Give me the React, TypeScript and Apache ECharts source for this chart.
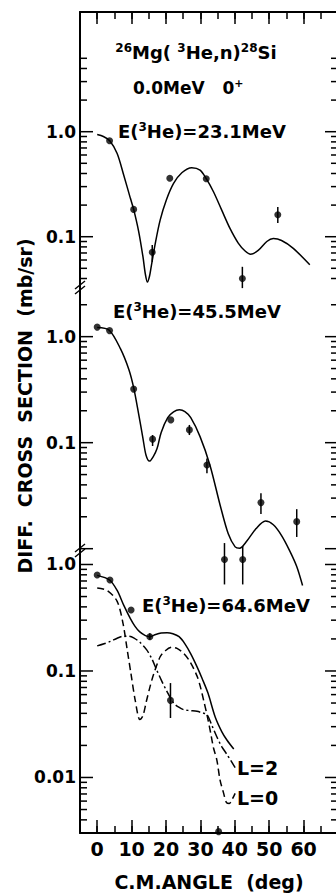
import React, { useEffect, useRef } from 'react';
import * as echarts from 'echarts';

// ---------- axis ranges ----------
const X_MIN = -5;
const X_MAX = 70;
const X_MAJOR_MIN = 0;
const P1_Y_MIN = 0.0332;
const P1_Y_MAX = 13.8;
const P2_Y_MIN = 0.00972;
const P2_Y_MAX = 2.94;
const P3_Y_MIN = 0.00301;
const P3_Y_MAX = 1.368;

// ---------- tick labels ----------
const X_TICK_LABELS = [0, 10, 20, 30, 40, 50, 60];
const P1_Y_LABELS: [number, string][] = [[1, '1.0'], [0.1, '0.1']];
const P2_Y_LABELS: [number, string][] = [[1, '1.0'], [0.1, '0.1']];
const P3_Y_LABELS: [number, string][] = [[1, '1.0'], [0.1, '0.1'], [0.01, '0.01']];

// ---------- y tick marks (value, major) ----------
const P1_Y_MAJOR = [1, 0.1];
const P1_Y_MINOR = [5, 4, 3, 2, 0.9, 0.8, 0.7, 0.6, 0.5, 0.4, 0.3, 0.2, 0.09, 0.08, 0.07, 0.06, 0.05, 0.04];
const P2_Y_MAJOR = [1, 0.1, 0.01];
const P2_Y_MINOR = [2, 0.9, 0.8, 0.7, 0.6, 0.5, 0.4, 0.3, 0.2, 0.09, 0.08, 0.07, 0.06, 0.05, 0.04, 0.03, 0.02];
const P3_Y_MAJOR = [1, 0.1, 0.01];
const P3_Y_MINOR = [0.9, 0.8, 0.7, 0.6, 0.5, 0.4, 0.3, 0.2, 0.09, 0.08, 0.07, 0.06, 0.05, 0.04, 0.03, 0.02, 0.009, 0.008, 0.007, 0.006, 0.005, 0.004];

// ---------- panel 1 : E(3He)=23.1 MeV ----------
const P1_POINTS = [[3.6, 0.82], [10.6, 0.182], [16.0, 0.071], [21.1, 0.36], [31.7, 0.357], [42.2, 0.04], [52.5, 0.162]];
const P1_ERRORS = [[16.0, 0.0578, 0.0833], [42.2, 0.0324, 0.0517], [52.5, 0.135, 0.192]];
const P1_CURVE = [
  [0, 0.94], [1.8, 0.9], [3.65, 0.82], [5.8, 0.62], [7.7, 0.387], [9.65, 0.232], [10.6, 0.182],
  [12.06, 0.112], [13.3, 0.0645], [14.0, 0.044], [14.6, 0.037], [15.2, 0.042], [15.7, 0.052],
  [16.9, 0.087], [18.3, 0.144], [20.1, 0.224], [22.2, 0.322], [24.6, 0.407], [27.5, 0.454],
  [29.9, 0.431], [31.7, 0.357], [33.8, 0.268], [36.2, 0.179], [38.6, 0.12], [41.0, 0.087],
  [43.0, 0.073], [44.6, 0.068], [46.8, 0.074], [49.3, 0.09], [51.2, 0.096], [53.6, 0.092],
  [57.0, 0.0775], [61.8, 0.054],
];

// ---------- panel 2 : E(3He)=45.5 MeV ----------
const P2_POINTS = [[0, 1.23], [3.6, 1.14], [10.6, 0.32], [16.1, 0.108], [21.4, 0.164], [26.8, 0.132], [31.9, 0.0616], [37.0, 0.0079], [42.3, 0.0079], [47.6, 0.0272], [58.0, 0.018]];
const P2_ERRORS = [[16.1, 0.093, 0.118], [26.8, 0.118, 0.147], [31.9, 0.0515, 0.0711], [37.0, 0.0046, 0.0113], [42.3, 0.0046, 0.0106], [47.6, 0.0212, 0.0334], [58.0, 0.0129, 0.0236]];
const P2_CURVE = [
  [0, 1.22], [3.5, 1.15], [6.75, 0.77], [9.2, 0.49], [10.6, 0.33], [12.0, 0.19], [13.3, 0.11],
  [14.2, 0.076], [15.2, 0.067], [16.3, 0.074], [17.4, 0.088], [18.6, 0.125], [20.5, 0.172],
  [22.2, 0.195], [23.9, 0.204], [25.5, 0.196], [27.2, 0.172], [29.9, 0.114], [32.8, 0.061],
  [35.7, 0.026], [38.1, 0.0138], [40.1, 0.0104], [41.4, 0.0101], [43.5, 0.0118], [46.2, 0.0155],
  [48.9, 0.0182], [51.2, 0.0168], [53.6, 0.0133], [56.0, 0.0095], [58.0, 0.0068], [59.7, 0.0045],
];

// ---------- panel 3 : E(3He)=64.6 MeV ----------
const P3_POINTS = [[0, 0.797], [3.7, 0.715], [9.85, 0.374], [15.3, 0.21], [21.3, 0.053], [35.3, 0.0031]];
const P3_ERRORS = [[15.3, 0.196, 0.226], [21.3, 0.0362, 0.077]];
const P3_SUM = [
  [0, 0.79], [3.6, 0.715], [5.8, 0.57], [7.7, 0.415], [9.65, 0.31], [11.0, 0.262], [12.3, 0.234],
  [14.0, 0.215], [15.3, 0.21], [17.0, 0.22], [18.6, 0.227], [20.3, 0.229], [22.0, 0.224],
  [23.8, 0.21], [25.5, 0.18], [27.2, 0.145], [29.0, 0.11], [30.5, 0.085], [32.2, 0.062],
  [34.3, 0.037], [36.2, 0.027], [37.7, 0.0225], [39.7, 0.0185],
];
const P3_L0 = [
  [0, 0.6], [2.9, 0.57], [5.8, 0.45], [7.5, 0.28], [8.7, 0.16], [9.8, 0.095], [11.1, 0.052],
  [12.4, 0.035], [13.3, 0.038], [14.3, 0.052], [15.4, 0.072], [16.4, 0.093], [18.3, 0.136],
  [19.8, 0.155], [21.7, 0.167], [23.2, 0.163], [25.1, 0.147], [27.0, 0.122], [29.0, 0.09],
  [30.0, 0.071], [31.0, 0.052], [31.9, 0.039], [33.0, 0.026], [33.8, 0.019], [34.8, 0.0145],
  [35.7, 0.0095], [36.7, 0.0072], [37.6, 0.0058], [38.4, 0.0057], [39.2, 0.0062], [40.1, 0.0071],
];
const P3_L2 = [
  [0, 0.172], [2.0, 0.18], [3.9, 0.19], [5.8, 0.203], [7.7, 0.212], [9.2, 0.212], [10.6, 0.205],
  [12.5, 0.185], [14.4, 0.158], [15.9, 0.13], [17.3, 0.102], [18.8, 0.08], [20.3, 0.064],
  [22.2, 0.05], [23.6, 0.046], [25.1, 0.0433], [27.0, 0.0425], [29.0, 0.0418], [30.5, 0.0405],
  [31.9, 0.039], [33.3, 0.031], [34.8, 0.024], [36.2, 0.0195], [37.7, 0.0165], [40.1, 0.0124],
];

const FONT = '"DejaVu Sans", "Liberation Sans", sans-serif';
const BLACK = '#000';

function labelFormatter(list: [number, string][]) {
  return (v: number) => {
    for (const [val, txt] of list) {
      if (Math.abs(Math.log10(v) - Math.log10(val)) < 1e-6) return txt;
    }
    return '';
  };
}

function richStyles(size: number) {
  return {
    n: { fontSize: size, fontWeight: 'bold', fontFamily: FONT, lineHeight: size + 3, fill: BLACK, color: BLACK },
    s: { fontSize: Math.round(size * 0.64), fontWeight: 'bold', fontFamily: FONT, lineHeight: Math.round(size * 0.7), verticalAlign: 'top', fill: BLACK, color: BLACK },
  };
}

function richText(x: number, y: number, text: string, size: number, align = 'left') {
  return {
    type: 'text',
    x,
    y,
    style: {
      text,
      rich: richStyles(size),
      fontSize: size,
      fontWeight: 'bold',
      fontFamily: FONT,
      fill: BLACK,
      textAlign: align,
      align,
      textVerticalAlign: 'middle',
      verticalAlign: 'middle',
    },
  };
}

function plainText(x: number, y: number, text: string, size: number, align = 'left', rotation = 0) {
  return {
    type: 'text',
    x,
    y,
    rotation,
    style: {
      text,
      fontSize: size,
      fontWeight: 'bold',
      fontFamily: FONT,
      fill: BLACK,
      textAlign: align,
      align,
      textVerticalAlign: 'middle',
      verticalAlign: 'middle',
    },
  };
}

function breakMark(cy: number) {
  return [
    { type: 'line', shape: { x1: 75, y1: cy + 2, x2: 85, y2: cy - 6 }, style: { stroke: BLACK, lineWidth: 1.5 } },
    { type: 'line', shape: { x1: 75, y1: cy + 7, x2: 85, y2: cy - 1 }, style: { stroke: BLACK, lineWidth: 1.5 } },
  ];
}

function yAxis(gridIndex: number, min: number, max: number, labels: [number, string][]) {
  return {
    gridIndex,
    type: 'log',
    logBase: 10,
    min,
    max,
    axisLine: { show: true, onZero: false, lineStyle: { color: BLACK, width: 2 } },
    axisTick: { show: false },
    splitLine: { show: false },
    axisLabel: {
      formatter: labelFormatter(labels),
      fontSize: 17,
      fontWeight: 'bold',
      fontFamily: FONT,
      color: BLACK,
      margin: 4,
      showMinLabel: true,
      showMaxLabel: true,
      hideOverlap: false,
    },
  };
}

function mainXAxis(gridIndex: number, position: string, show: boolean) {
  return {
    gridIndex,
    type: 'value',
    position,
    min: X_MIN,
    max: X_MAX,
    interval: 5,
    show,
    axisLine: { show: true, onZero: false, lineStyle: { color: BLACK, width: 2 } },
    axisTick: { show: true, inside: true, length: 7, lineStyle: { color: BLACK, width: 1.5 } },
    axisLabel: { show: false },
    splitLine: { show: false },
  };
}

function tickSeries(xIdx: number, yIdx: number, major: number[], minor: number[]) {
  const data = [...major.map((v) => [X_MIN, v, 1]), ...minor.map((v) => [X_MIN, v, 0])];
  return {
    type: 'custom',
    xAxisIndex: xIdx,
    yAxisIndex: yIdx,
    data,
    encode: { x: 0, y: 1 },
    silent: true,
    clip: false,
    renderItem: (params: any, api: any) => {
      const v = api.value(1);
      const len = api.value(2) ? 13 : 7;
      const pl = api.coord([X_MIN, v]);
      const pr = api.coord([X_MAX, v]);
      return {
        type: 'group',
        children: [
          { type: 'line', shape: { x1: pl[0], y1: pl[1], x2: pl[0] + len, y2: pl[1] }, style: { stroke: BLACK, lineWidth: 1.5 } },
          { type: 'line', shape: { x1: pr[0] - len, y1: pr[1], x2: pr[0], y2: pr[1] }, style: { stroke: BLACK, lineWidth: 1.5 } },
        ],
      };
    },
  };
}

function errorSeries(xIdx: number, yIdx: number, data: number[][]) {
  return {
    type: 'custom',
    xAxisIndex: xIdx,
    yAxisIndex: yIdx,
    data,
    encode: { x: 0, y: [1, 2] },
    silent: true,
    clip: false,
    renderItem: (params: any, api: any) => {
      const x = api.value(0);
      const a = api.coord([x, api.value(1)]);
      const b = api.coord([x, api.value(2)]);
      return { type: 'line', shape: { x1: a[0], y1: a[1], x2: b[0], y2: b[1] }, style: { stroke: BLACK, lineWidth: 1.5 } };
    },
  };
}

function curve(xIdx: number, yIdx: number, data: number[][], dash: any = 'solid') {
  return {
    type: 'line',
    xAxisIndex: xIdx,
    yAxisIndex: yIdx,
    data,
    smooth: 0.3,
    showSymbol: false,
    symbol: 'none',
    clip: false,
    silent: true,
    lineStyle: { color: BLACK, width: 1.5, type: dash },
  };
}

function points(xIdx: number, yIdx: number, data: number[][]) {
  return {
    type: 'scatter',
    xAxisIndex: xIdx,
    yAxisIndex: yIdx,
    data,
    symbol: 'circle',
    symbolSize: 7,
    clip: false,
    silent: true,
    itemStyle: { color: BLACK },
  };
}

const GRID_LEFT = 80;
const GRID_W = 258;
const PX_PER_DEG = GRID_W / (X_MAX - X_MIN);

export default function App() {
  const ref = useRef<HTMLDivElement>(null);
  useEffect(() => {
    document.body.style.margin = '0';
    const chart = echarts.init(ref.current!, null, { renderer: 'svg' });
    const option: any = {
      animation: false,
      backgroundColor: '#fff',
      grid: [
        { left: GRID_LEFT, top: 12, width: GRID_W, height: 275, outerBoundsMode: 'none' },
        { left: GRID_LEFT, top: 287, width: GRID_W, height: 263, outerBoundsMode: 'none' },
        { left: GRID_LEFT, top: 550, width: GRID_W, height: 283, outerBoundsMode: 'none' },
        {
          left: GRID_LEFT + (X_MAJOR_MIN - X_MIN) * PX_PER_DEG,
          top: 12,
          width: (X_MAX - X_MAJOR_MIN) * PX_PER_DEG,
          height: 821,
          outerBoundsMode: 'none',
        },
      ],
      xAxis: [
        mainXAxis(0, 'top', true),
        mainXAxis(1, 'bottom', false),
        mainXAxis(2, 'bottom', true),
        {
          gridIndex: 3,
          type: 'value',
          position: 'bottom',
          min: X_MAJOR_MIN,
          max: X_MAX,
          interval: 10,
          axisLine: { show: false, onZero: false },
          axisTick: { show: true, inside: true, length: 13, lineStyle: { color: BLACK, width: 1.5 } },
          axisLabel: {
            formatter: (v: number) => (X_TICK_LABELS.includes(v) ? String(v) : ''),
            fontSize: 19,
            fontWeight: 'bold',
            fontFamily: FONT,
            color: BLACK,
            margin: 6,
            hideOverlap: false,
          },
          splitLine: { show: false },
        },
        {
          gridIndex: 3,
          type: 'value',
          position: 'top',
          min: X_MAJOR_MIN,
          max: X_MAX,
          interval: 10,
          axisLine: { show: false, onZero: false },
          axisTick: { show: true, inside: true, length: 12, lineStyle: { color: BLACK, width: 1.5 } },
          axisLabel: { show: false },
          splitLine: { show: false },
        },
      ],
      yAxis: [
        yAxis(0, P1_Y_MIN, P1_Y_MAX, P1_Y_LABELS),
        yAxis(1, P2_Y_MIN, P2_Y_MAX, P2_Y_LABELS),
        yAxis(2, P3_Y_MIN, P3_Y_MAX, P3_Y_LABELS),
        { gridIndex: 3, type: 'value', min: 0, max: 1, show: false },
      ],
      series: [
        tickSeries(0, 0, P1_Y_MAJOR, P1_Y_MINOR),
        tickSeries(1, 1, P2_Y_MAJOR, P2_Y_MINOR),
        tickSeries(2, 2, P3_Y_MAJOR, P3_Y_MINOR),
        curve(0, 0, P1_CURVE),
        errorSeries(0, 0, P1_ERRORS),
        points(0, 0, P1_POINTS),
        curve(1, 1, P2_CURVE),
        errorSeries(1, 1, P2_ERRORS),
        points(1, 1, P2_POINTS),
        curve(2, 2, P3_SUM),
        curve(2, 2, P3_L0, [7, 4]),
        curve(2, 2, P3_L2, [9, 3, 2, 3]),
        errorSeries(2, 2, P3_ERRORS),
        points(2, 2, P3_POINTS),
      ],
      graphic: [
        richText(196, 52, '{s|26}{n|Mg( }{s|3}{n|He,n)}{s|28}{n|Si}', 18, 'center'),
        richText(133, 88, '{n|0.0MeV   0}{s|+}', 17, 'left'),
        richText(118, 131, '{n|E(}{s|3}{n|He)=23.1MeV}', 18, 'left'),
        richText(113, 311, '{n|E(}{s|3}{n|He)=45.5MeV}', 18, 'left'),
        richText(142, 605, '{n|E(}{s|3}{n|He)=64.6MeV}', 18, 'left'),
        plainText(237, 768, 'L=2', 19, 'left'),
        plainText(237, 798, 'L=0', 19, 'left'),
        plainText(209, 882, 'C.M.ANGLE  (deg)', 19, 'center'),
        plainText(25, 406, 'DIFF.  CROSS  SECTION  (mb/sr)', 19, 'center', Math.PI / 2),
        ...breakMark(287),
        ...breakMark(550),
      ],
    };
    chart.setOption(option);
    return () => chart.dispose();
  }, []);
  return <div ref={ref} style={{ width: 336, height: 893 }} />;
}
